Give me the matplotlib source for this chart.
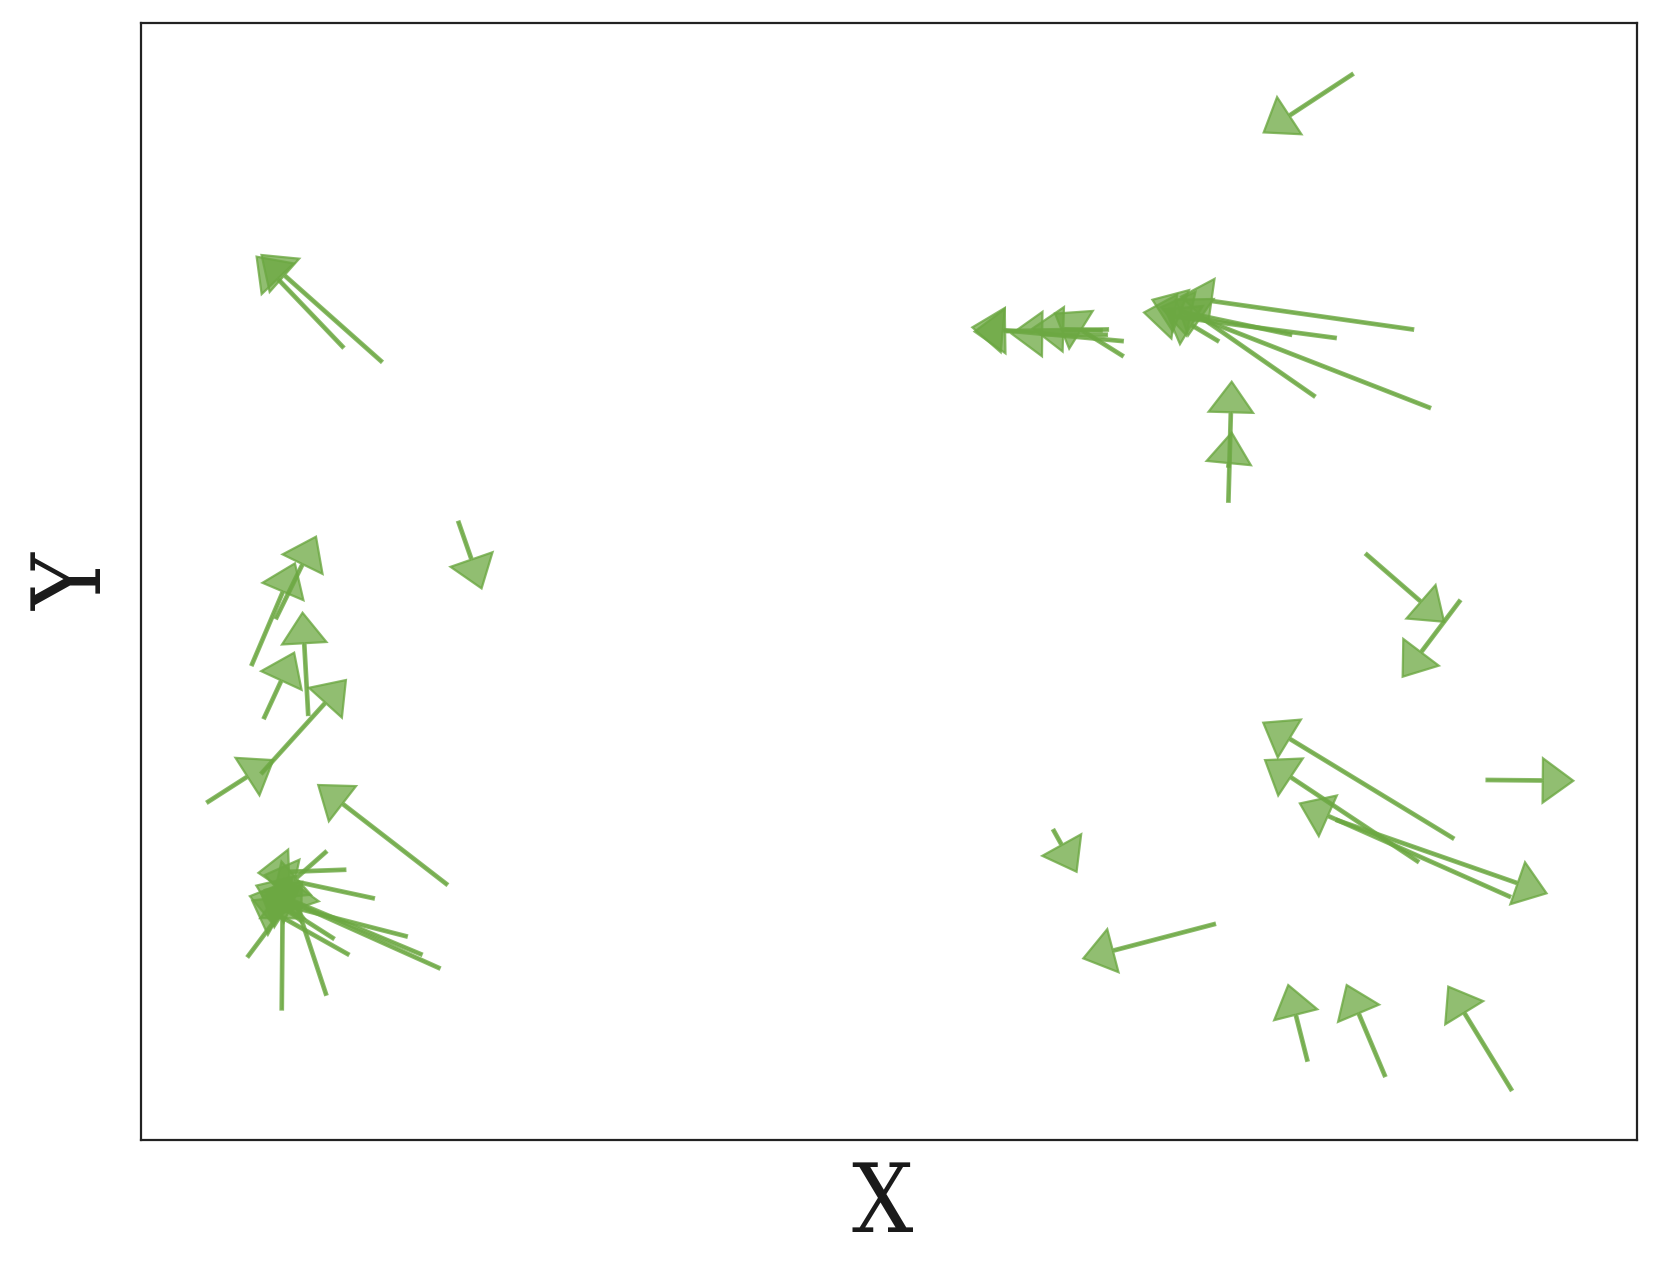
import matplotlib
matplotlib.use("Agg")
import matplotlib.pyplot as plt
from matplotlib.patches import FancyArrowPatch, ArrowStyle

# arrow tails (x0, y0) and tips (x1, y1) in data units
x0 = [81.02, 16.10, 13.53,
      7.41, 9.04, 11.19, 8.23, 4.44, 8.07, 20.47, 21.23,
      12.39, 13.67, 15.58, 17.78, 18.77, 19.97, 13.88, 12.89, 12.39, 9.42, 7.15,
      65.65, 65.65, 64.66, 64.59, 64.24,
      85.06, 79.89, 76.91, 78.47, 86.19, 72.03,
      72.71, 72.71,
      81.91, 88.19, 87.75, 85.40, 91.54, 79.95, 89.97,
      61.01, 71.81,
      77.99, 83.18, 91.64]
y0 = [95.45, 69.70, 70.98,
      42.52, 46.71, 38.05, 37.76, 30.23, 32.83, 22.87, 55.36,
      25.81, 24.19, 21.63, 18.22, 16.60, 15.37, 16.60, 18.03, 13.00, 11.67, 16.41,
      70.21, 71.54, 72.58, 72.11, 72.49,
      72.58, 71.82, 72.11, 66.60, 65.56, 71.54,
      57.15, 60.29,
      52.47, 48.29, 27.00, 24.91, 21.77, 28.64, 32.23,
      27.75, 19.33,
      7.09, 5.71, 4.46]
x1 = [75.07, 8.07, 7.74,
      10.30, 11.71, 10.81, 10.25, 8.85, 13.71, 11.86, 22.78,
      8.85, 7.86, 8.29, 7.29, 7.72, 8.29, 7.44, 8.00, 9.84, 9.49, 10.76,
      61.12, 55.59, 55.74, 58.22, 59.63,
      69.55, 67.07, 68.20, 69.19, 67.63, 68.48,
      72.93, 72.93,
      87.13, 84.36, 75.04, 75.16, 77.49, 93.98, 95.77,
      62.56, 63.01,
      76.71, 80.62, 87.41]
y1 = [90.23, 79.25, 79.10,
      51.63, 54.02, 47.21, 43.63, 34.01, 41.18, 31.78, 49.39,
      21.63, 23.91, 23.72, 21.82, 22.77, 22.39, 21.44, 22.20, 23.34, 22.58, 22.87,
      74.00, 72.77, 72.39, 72.20, 72.68,
      75.52, 74.10, 74.57, 75.24, 75.24, 74.38,
      67.90, 63.34,
      46.40, 41.48, 37.36, 34.01, 30.13, 22.08, 32.16,
      24.01, 16.25,
      13.86, 13.86, 13.72]

base = (108 / 255, 168 / 255, 66 / 255)

fig = plt.figure(figsize=(16.61, 12.82), dpi=100)
ax = fig.add_axes([0.0848, 0.1109, 0.9005, 0.8709])
ax.set_xlim(0, 100)
ax.set_ylim(0, 100)

style = ArrowStyle('Simple', head_length=22, head_width=32, tail_width=1.8)
for a, b, c, d in zip(x0, y0, x1, y1):
    p = FancyArrowPatch((a, b), (c, d), arrowstyle=style, mutation_scale=1,
                        shrinkA=0, shrinkB=0, linewidth=1.6,
                        edgecolor=base + (0.8,), facecolor=base + (0.75,),
                        joinstyle='miter')
    ax.add_patch(p)

ax.set_xticks([])
ax.set_yticks([])
for s in ax.spines.values():
    s.set_linewidth(1.6)
    s.set_color('#222222')

ax.set_xlabel('X', family='DejaVu Serif', fontstretch='condensed', fontsize=69,
              color='#1a1a1a', labelpad=14)
ax.xaxis.label.set_x(0.4955)
ax.set_ylabel('Y', family='DejaVu Serif', fontstretch='condensed', fontsize=69,
              color='#1a1a1a', labelpad=14)

fig.savefig('out.png', dpi=100)
